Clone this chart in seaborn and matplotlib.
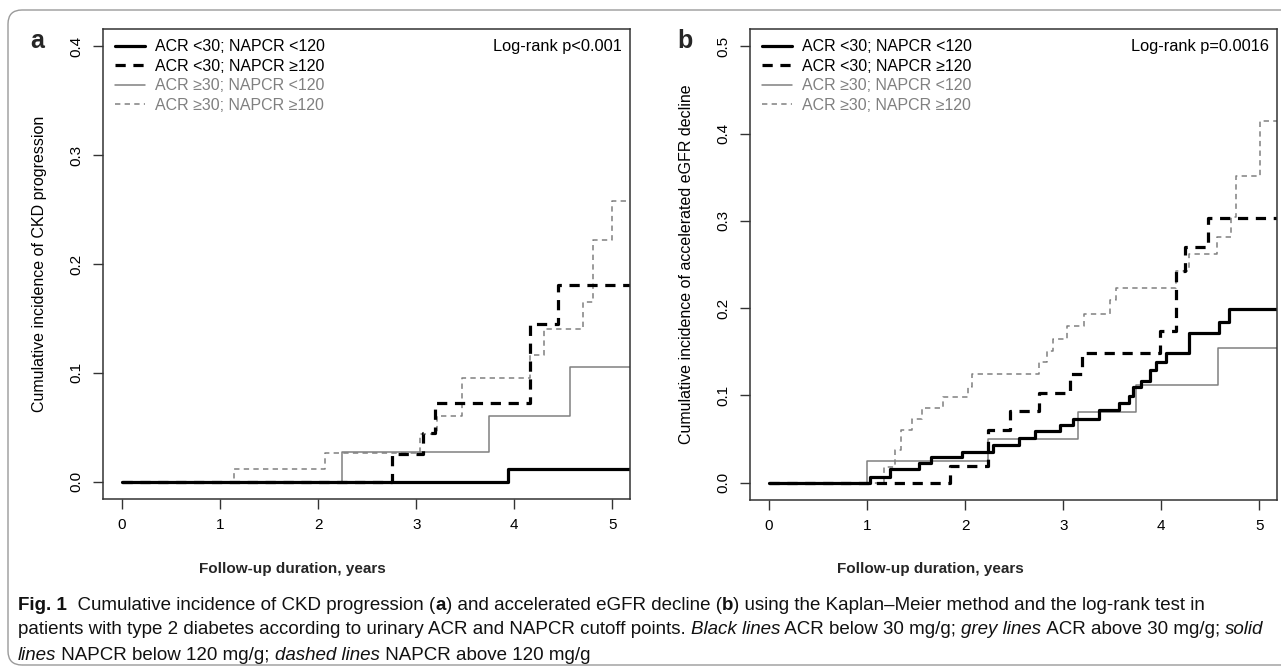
import numpy as np
import pandas as pd
import matplotlib
matplotlib.use("Agg")
import matplotlib.pyplot as plt
import seaborn as sns
from matplotlib import font_manager as fm
from matplotlib.patches import FancyBboxPatch
from matplotlib.transforms import IdentityTransform

# ---- data (step functions, years vs cumulative incidence)
# panel a: CKD progression
a_lo_lo_t = [0, 3.94, 5.2]
a_lo_lo_y = [0, 0.012, 0.012]
a_lo_hi_t = [0, 2.75, 3.065, 3.19, 4.16, 4.45, 5.2]
a_lo_hi_y = [0, 0.025, 0.045, 0.072, 0.145, 0.181, 0.181]
a_hi_lo_t = [0, 2.24, 3.74, 4.57, 5.2]
a_hi_lo_y = [0, 0.027, 0.060, 0.105, 0.105]
a_hi_hi_t = [0, 1.14, 2.07, 3.04, 3.21, 3.47, 4.16, 4.30, 4.70, 4.80, 5.0, 5.2]
a_hi_hi_y = [0, 0.012, 0.026, 0.044, 0.060, 0.095, 0.116, 0.140, 0.165, 0.222, 0.258, 0.258]

# panel b: accelerated eGFR decline
b_lo_lo_t = [0, 1.028, 1.236, 1.534, 1.650, 1.966, 2.282, 2.546, 2.711, 2.967, 3.101,
             3.364, 3.564, 3.670, 3.715, 3.793, 3.880, 3.951, 4.049, 4.284, 4.593, 4.688, 5.2]
b_lo_lo_y = [0, 0.0065, 0.015, 0.022, 0.029, 0.035, 0.043, 0.051, 0.059, 0.066, 0.073,
             0.083, 0.091, 0.099, 0.110, 0.117, 0.129, 0.138, 0.148, 0.171, 0.184, 0.199, 0.199]
b_lo_hi_t = [0, 1.85, 2.23, 2.458, 2.75, 3.065, 3.188, 3.986, 4.155, 4.242, 4.478, 5.2]
b_lo_hi_y = [0, 0.019, 0.060, 0.082, 0.103, 0.125, 0.148, 0.174, 0.242, 0.270, 0.303, 0.303]
b_hi_lo_t = [0, 1.00, 2.237, 3.153, 3.740, 4.576, 5.2]
b_hi_lo_y = [0, 0.025, 0.050, 0.081, 0.112, 0.154, 0.154]
b_hi_hi_t = [0, 1.176, 1.281, 1.345, 1.457, 1.555, 1.773, 2.026, 2.07, 2.757, 2.837, 2.897,
             3.037, 3.213, 3.477, 3.540, 4.155, 4.284, 4.565, 4.706, 4.759, 5.011, 5.2]
b_hi_hi_y = [0, 0.018, 0.037, 0.060, 0.073, 0.086, 0.098, 0.110, 0.125, 0.138, 0.151, 0.165,
             0.179, 0.193, 0.209, 0.2226, 0.242, 0.262, 0.282, 0.305, 0.352, 0.4145, 0.4145]

group_labels = ["ACR <30; NAPCR <120", "ACR <30; NAPCR \u2265120",
                "ACR \u226530; NAPCR <120", "ACR \u226530; NAPCR \u2265120"]
pvalues = ["Log-rank p<0.001", "Log-rank p=0.0016"]
ylabels = ["Cumulative incidence of CKD progression",
           "Cumulative incidence of accelerated eGFR decline"]

sns.set_theme(style="ticks")
plt.rcParams["font.family"] = ["Liberation Sans", "DejaVu Sans"]

names = {f.name for f in fm.fontManager.ttflist}
cap_family = "Liberation Sans Narrow" if "Liberation Sans Narrow" in names else "Liberation Sans"
cap_fam = [cap_family, "DejaVu Sans"]

GREY = "#808080"
line_styles = [
    dict(color="black", lw=2.3, ls="-"),
    dict(color="black", lw=2.3, ls=(0, (3.2, 2.4))),
    dict(color=GREY, lw=1.1, ls="-"),
    dict(color=GREY, lw=1.1, ls=(0, (3.5, 2.8))),
]
text_colors = ["black", "black", GREY, GREY]

W, H = 1281, 670
fig = plt.figure(figsize=(W / 100, H / 100), dpi=100)
ax_a = fig.add_axes([103 / W, 1 - 499 / H, (630 - 103) / W, (499 - 29) / H])
ax_b = fig.add_axes([750 / W, 1 - 500 / H, (1277 - 750) / W, (500 - 29) / H])

panels = [
    (ax_a, [(a_lo_lo_t, a_lo_lo_y), (a_lo_hi_t, a_lo_hi_y), (a_hi_lo_t, a_hi_lo_y), (a_hi_hi_t, a_hi_hi_y)],
     (-0.016, 0.416), [0, 0.1, 0.2, 0.3, 0.4]),
    (ax_b, [(b_lo_lo_t, b_lo_lo_y), (b_lo_hi_t, b_lo_hi_y), (b_hi_lo_t, b_hi_lo_y), (b_hi_hi_t, b_hi_hi_y)],
     (-0.02, 0.52), [0, 0.1, 0.2, 0.3, 0.4, 0.5]),
]

for i, (ax, series, ylim, yticks) in enumerate(panels):
    # draw grey first so the black curves sit on top
    for k in [3, 2, 1, 0]:
        t, y = series[k]
        df = pd.DataFrame({"t": t, "y": y})
        st = line_styles[k]
        sns.lineplot(data=df, x="t", y="y", ax=ax, estimator=None, sort=False,
                     drawstyle="steps-post", color=st["color"], linewidth=st["lw"],
                     linestyle=st["ls"], label=group_labels[k])
    ax.set_xlim(-0.194, 5.18)
    ax.set_ylim(*ylim)
    ax.set_xticks(range(6))
    ax.set_yticks(yticks)
    ax.set_yticklabels([f"{v:.1f}" for v in yticks], rotation=90, va="center")
    ax.tick_params(length=7, width=1, color="#333333", pad=7, labelsize=11, labelcolor="black")
    for sp in ax.spines.values():
        sp.set_visible(True)
        sp.set_color("#333333")
        sp.set_linewidth(1.1)
    ax.set_xlabel("")
    ax.set_ylabel(ylabels[i], fontsize=11.5, labelpad=16, color="black")

    handles, labels = ax.get_legend_handles_labels()
    order = [labels.index(l) for l in group_labels]
    leg = ax.legend([handles[j] for j in order], [labels[j] for j in order],
                    loc="upper left", bbox_to_anchor=(0.022, 0.978), frameon=False,
                    fontsize=11.5, handlelength=1.9, handletextpad=0.6,
                    labelspacing=0.28, borderpad=0, borderaxespad=0)
    for txt, c in zip(leg.get_texts(), text_colors):
        txt.set_color(c)
    ax.text(0.984, 0.962, pvalues[i], transform=ax.transAxes, ha="right", va="center",
            fontsize=11.8, color="black")

# panel letters
fig.text(37 / W, 1 - 48 / H, "a", fontsize=18, fontweight="bold", ha="center", va="baseline")
fig.text(685 / W, 1 - 48 / H, "b", fontsize=18, fontweight="bold", ha="center", va="baseline")

# x axis titles (sit in the caption area, condensed font)
for xc in [292, 930]:
    fig.text(xc / W, 1 - 569 / H, "Follow-up duration, years", family=cap_fam,
             fontsize=11, fontweight="bold", ha="center", va="center")

# caption with mixed styles
caption = [
    [("Fig. 1", "bold", "normal"), ("  Cumulative incidence of CKD progression (", "normal", "normal"),
     ("a", "bold", "normal"), (") and accelerated eGFR decline (", "normal", "normal"),
     ("b", "bold", "normal"),
     (") using the Kaplan\u2013Meier method and the log-rank test in", "normal", "normal")],
    [("patients with type 2 diabetes according to urinary ACR and NAPCR cutoff points. ", "normal", "normal"),
     ("Black lines", "normal", "italic"), (" ACR below 30 mg/g; ", "normal", "normal"),
     ("grey lines", "normal", "italic"), (" ACR above 30 mg/g; ", "normal", "normal"),
     ("solid", "normal", "italic")],
    [("lines", "normal", "italic"), (" NAPCR below 120 mg/g; ", "normal", "normal"),
     ("dashed lines", "normal", "italic"), (" NAPCR above 120 mg/g", "normal", "normal")],
]
renderer = fig.canvas.get_renderer()


def run_width(runs, size):
    total = 0
    for s, wt, stl in runs:
        t = fig.text(0, 0, s, fontsize=size, fontweight=wt, fontstyle=stl, family=cap_fam)
        total += t.get_window_extent(renderer=renderer).width
        t.remove()
    return total


trial = 12
cap_size = trial * (1271 - 18) / run_width(caption[1], trial)
for row, y_px in zip(caption, [605, 630, 655]):
    x = 18
    for s, wt, stl in row:
        t = fig.text(x / W, 1 - y_px / H, s, fontsize=cap_size, fontweight=wt, fontstyle=stl,
                     family=cap_fam, ha="left", va="center", color="#111111")
        x += t.get_window_extent(renderer=renderer).width

# rounded frame around the whole figure
frame = FancyBboxPatch((8, 5), 1320, 655, boxstyle="round,pad=0,rounding_size=14",
                       transform=IdentityTransform(), fill=False, edgecolor="#9a9a9a", linewidth=1)
fig.add_artist(frame)

fig.savefig("out.png", dpi=100)
